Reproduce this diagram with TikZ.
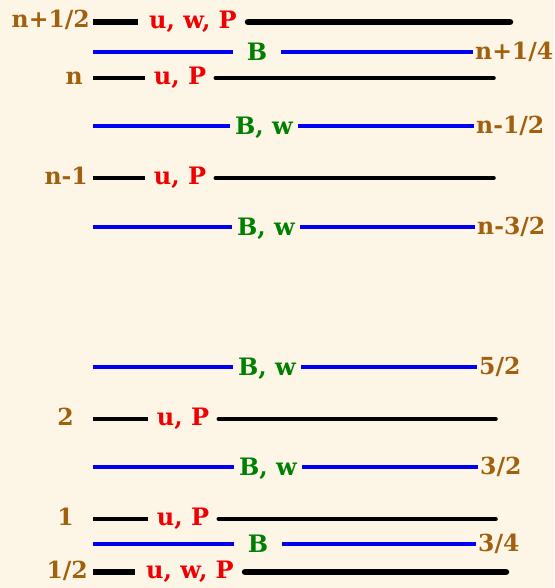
\documentclass[tikz,border=0pt]{standalone}
\usepackage{fontspec}
\setmainfont{DejaVu Serif}
\usepackage{tikz}
\usetikzlibrary{positioning}
\definecolor{gridBg}{HTML}{FDF5E6}
\definecolor{lvlBrown}{HTML}{A0600E}
\definecolor{fldRed}{HTML}{F00000}
\definecolor{fldGreen}{HTML}{008000}
\definecolor{edgeBlue}{HTML}{0000F0}
\tikzset{
  lvl/.style={text=lvlBrown,font=\fontsize{23.5}{28}\selectfont\bfseries,inner sep=0pt,yshift=-4pt},
  lvlr/.style={lvl,anchor=mid west,inner xsep=2pt,yshift=-1pt},
  flx/.style={text=fldRed,font=\fontsize{24}{28}\selectfont\bfseries,anchor=mid,inner ysep=0pt,inner xsep=9pt,yshift=-4pt},
  fld/.style={text=fldGreen,font=\fontsize{24}{28}\selectfont\bfseries,anchor=mid,inner ysep=0pt,inner xsep=5pt,yshift=-6pt},
  wide/.style={line width=6.5pt},
  thin/.style={line width=3.5pt},
  bedge/.style={edgeBlue,line width=3.2pt}
}
\begin{document}
\begin{tikzpicture}[x=1pt,y=1pt]
  \fill[gridBg] (0,0) rectangle (554,-588);
  \useasboundingbox (0,0) rectangle (554,-588);
  % top boundary n+1/2
  \node[lvl,anchor=mid east,yshift=1pt] (top) at (90,-22) {n+1/2};
  \coordinate (topL) at (93,-22);
  \node[flx,inner xsep=11pt] (topF) at (193,-22) {u, w, P};
  \coordinate (topR) at (510,-22);
  \draw[wide] (topL) -- (topF.west |- topL);
  \draw[wide,line cap=round] (topF.east |- topL) -- (topR);
  % n+1/4
  \coordinate (qL) at (93,-52);
  \node[fld,inner xsep=14pt] (qF) at (257,-52) {B};
  \node[lvlr] (q) at (473,-52) {n+1/4};
  \draw[bedge] (qL) -- (qF.west |- qL);
  \draw[bedge] (qF.east |- qL) -- (q.west |- qL);
  % n
  \node[lvl,anchor=mid east] (cn) at (83,-78) {n};
  \coordinate (cnL) at (93,-78);
  \node[flx] (cnF) at (180,-78) {u, P};
  \coordinate (cnR) at (494,-78);
  \draw[thin] (cnL) -- (cnF.west |- cnL);
  \draw[thin,line cap=round] (cnF.east |- cnL) -- (cnR);
  % n-1/2
  \coordinate (fnL) at (93,-126);
  \node[fld] (fnF) at (264,-126) {B, w};
  \node[lvlr] (fn) at (474,-126) {n-1/2};
  \draw[bedge] (fnL) -- (fnF.west |- fnL);
  \draw[bedge] (fnF.east |- fnL) -- (fn.west |- fnL);
  % n-1
  \node[lvl,anchor=mid east] (cm) at (88,-178) {n-1};
  \coordinate (cmL) at (93,-178);
  \node[flx] (cmF) at (180,-178) {u, P};
  \coordinate (cmR) at (494,-178);
  \draw[thin] (cmL) -- (cmF.west |- cmL);
  \draw[thin,line cap=round] (cmF.east |- cmL) -- (cmR);
  % n-3/2
  \coordinate (fmL) at (93,-227);
  \node[fld] (fmF) at (266,-227) {B, w};
  \node[lvlr] (fm) at (475,-227) {n-3/2};
  \draw[bedge] (fmL) -- (fmF.west |- fmL);
  \draw[bedge] (fmF.east |- fmL) -- (fm.west |- fmL);
  % 5/2
  \coordinate (ftL) at (93,-367);
  \node[fld] (ftF) at (267,-367) {B, w};
  \node[lvlr] (ft) at (477,-367) {5/2};
  \draw[bedge] (ftL) -- (ftF.west |- ftL);
  \draw[bedge] (ftF.east |- ftL) -- (ft.west |- ftL);
  % 2
  \node[lvl,anchor=mid east] (c2) at (74,-419) {2};
  \coordinate (c2L) at (93,-419);
  \node[flx] (c2F) at (183,-419) {u, P};
  \coordinate (c2R) at (496,-419);
  \draw[thin] (c2L) -- (c2F.west |- c2L);
  \draw[thin,line cap=round] (c2F.east |- c2L) -- (c2R);
  % 3/2
  \coordinate (fsL) at (93,-467);
  \node[fld] (fsF) at (268,-467) {B, w};
  \node[lvlr] (fs) at (478,-467) {3/2};
  \draw[bedge] (fsL) -- (fsF.west |- fsL);
  \draw[bedge] (fsF.east |- fsL) -- (fs.west |- fsL);
  % 1
  \node[lvl,anchor=mid east] (c1) at (74,-519) {1};
  \coordinate (c1L) at (93,-519);
  \node[flx] (c1F) at (183,-519) {u, P};
  \coordinate (c1R) at (496,-519);
  \draw[thin] (c1L) -- (c1F.west |- c1L);
  \draw[thin,line cap=round] (c1F.east |- c1L) -- (c1R);
  % 3/4
  \coordinate (bqL) at (93,-544);
  \node[fld,inner xsep=14pt] (bqF) at (258,-544) {B};
  \node[lvlr] (bq) at (476,-544) {3/4};
  \draw[bedge] (bqL) -- (bqF.west |- bqL);
  \draw[bedge] (bqF.east |- bqL) -- (bq.west |- bqL);
  % bottom boundary 1/2
  \node[lvl,anchor=mid east] (bot) at (88,-572) {1/2};
  \coordinate (botL) at (93,-572);
  \node[flx,inner xsep=11pt] (botF) at (190,-572) {u, w, P};
  \coordinate (botR) at (506,-572);
  \draw[wide] (botL) -- (botF.west |- botL);
  \draw[wide,line cap=round] (botF.east |- botL) -- (botR);
\end{tikzpicture}
\end{document}
